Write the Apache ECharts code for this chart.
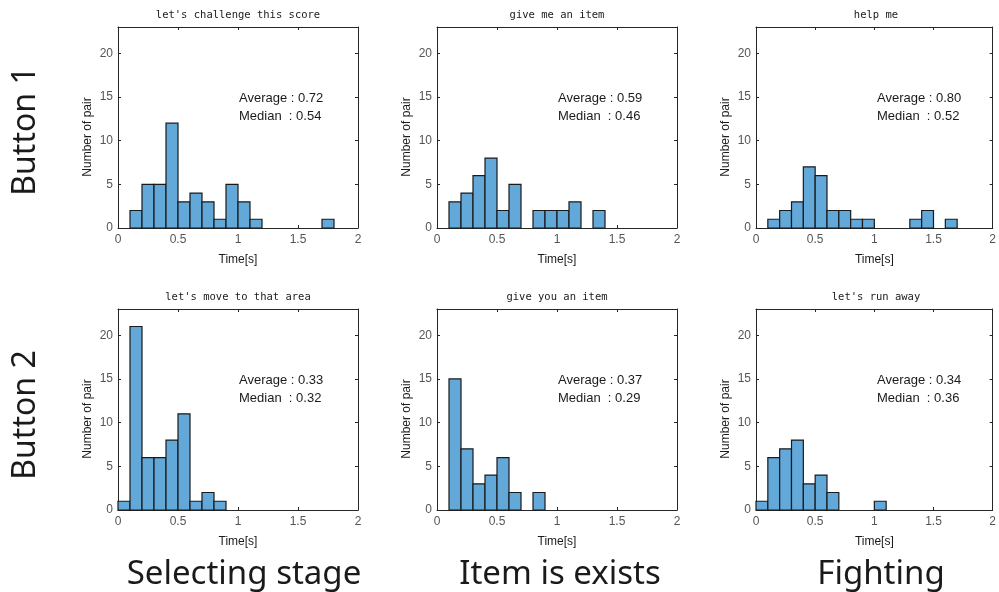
<!DOCTYPE html>
<html>
<head>
<meta charset="utf-8">
<script src="https://cdn.jsdelivr.net/npm/echarts@6/dist/echarts.min.js"></script>
<style>
html,body{margin:0;padding:0;background:#fff;}
#chart{width:999px;height:592px;}
</style>
</head>
<body>
<div id="chart"></div>
<script>
// ---- Data ----
const BIN_WIDTH = 0.1; // histogram bin width in seconds, bins start at 0
const panelTitles = [
  "let's challenge this score", "give me an item", "help me",
  "let's move to that area", "give you an item", "let's run away"
];
// counts per bin: [0-0.1, 0.1-0.2, ..., 1.9-2.0]
const countsChallenge = [0, 2, 5, 5, 12, 3, 4, 3, 1, 5, 3, 1, 0, 0, 0, 0, 0, 1, 0, 0];
const countsGiveMe    = [0, 3, 4, 6, 8, 2, 5, 0, 2, 2, 2, 3, 0, 2, 0, 0, 0, 0, 0, 0];
const countsHelpMe    = [0, 1, 2, 3, 7, 6, 2, 2, 1, 1, 0, 0, 0, 1, 2, 0, 1, 0, 0, 0];
const countsMove      = [1, 21, 6, 6, 8, 11, 1, 2, 1, 0, 0, 0, 0, 0, 0, 0, 0, 0, 0, 0];
const countsGiveYou   = [0, 15, 7, 3, 4, 6, 2, 0, 2, 0, 0, 0, 0, 0, 0, 0, 0, 0, 0, 0];
const countsRunAway   = [1, 6, 7, 8, 3, 4, 2, 0, 0, 0, 1, 0, 0, 0, 0, 0, 0, 0, 0, 0];
const allCounts = [countsChallenge, countsGiveMe, countsHelpMe, countsMove, countsGiveYou, countsRunAway];
const averages = ["0.72", "0.59", "0.80", "0.33", "0.37", "0.34"];
const medians  = ["0.54", "0.46", "0.52", "0.32", "0.29", "0.36"];
const rowLabels = ["Button 1", "Button 2"];
const colLabels = ["Selecting stage", "Item is exists", "Fighting"];
const xTickLabels = ["0", "0.5", "1", "1.5", "2"];
const X_MIN = 0, X_MAX = 2, X_INTERVAL = 0.5;
const Y_MIN = 0, Y_MAX = 23, Y_INTERVAL = 5;
const xAxisName = "Time[s]";
const yAxisName = "Number of pair";

// ---- Layout ----
const gridLefts = [118, 437, 756];
const gridTops = [27, 309];
const GW = 240, GH = 201;
const frameColor = '#262626';
const labelColor = '#555555';
const barColor = '#62a8d9';

const grids = [], xAxes = [], yAxes = [], series = [], graphics = [];

for (let i = 0; i < 6; i++) {
  const r = Math.floor(i / 3), c = i % 3;
  const left = gridLefts[c], top = gridTops[r];
  grids.push({left: left, top: top, width: GW, height: GH, containLabel: false});
  const tickCommon = {show: true, inside: true, length: 3, lineStyle: {color: frameColor, width: 1}};
  const lineCommon = {show: true, onZero: false, lineStyle: {color: frameColor, width: 1}};
  // bottom x
  xAxes.push({
    type: 'value', gridIndex: i, min: X_MIN, max: X_MAX, interval: X_INTERVAL, position: 'bottom',
    axisLine: lineCommon, axisTick: tickCommon, splitLine: {show: false},
    axisLabel: {color: labelColor, fontSize: 12, fontFamily: 'Liberation Sans', margin: 6,
      formatter: v => xTickLabels[Math.round((v - X_MIN) / X_INTERVAL)]},
    name: xAxisName, nameLocation: 'middle', nameGap: 26,
    nameTextStyle: {color: '#1a1a1a', fontSize: 12, fontFamily: 'Liberation Sans'}
  });
  // top x (frame)
  xAxes.push({
    type: 'value', gridIndex: i, min: X_MIN, max: X_MAX, interval: X_INTERVAL, position: 'top',
    axisLine: lineCommon, axisTick: tickCommon, splitLine: {show: false}, axisLabel: {show: false}
  });
  // left y
  yAxes.push({
    type: 'value', gridIndex: i, min: Y_MIN, max: Y_MAX, interval: Y_INTERVAL, position: 'left',
    axisLine: lineCommon, axisTick: tickCommon, splitLine: {show: false},
    axisLabel: {color: labelColor, fontSize: 12, fontFamily: 'Liberation Sans', margin: 5, showMaxLabel: false}
  });
  // right y (frame)
  yAxes.push({
    type: 'value', gridIndex: i, min: Y_MIN, max: Y_MAX, interval: Y_INTERVAL, position: 'right',
    axisLine: lineCommon, axisTick: tickCommon, splitLine: {show: false}, axisLabel: {show: false}
  });

  const data = allCounts[i].map((cnt, k) => [k * BIN_WIDTH, (k + 1) * BIN_WIDTH, cnt]).filter(d => d[2] > 0);
  series.push({
    type: 'custom', xAxisIndex: 2 * i, yAxisIndex: 2 * i,
    data: data,
    encode: {x: [0, 1], y: 2},
    renderItem: function (params, api) {
      const p0 = api.coord([api.value(0), 0]);
      const p1 = api.coord([api.value(1), api.value(2)]);
      return {
        type: 'rect',
        shape: {x: p0[0], y: p1[1], width: p1[0] - p0[0], height: p0[1] - p1[1]},
        style: {fill: barColor, stroke: '#1a1a1a', lineWidth: 1.2}
      };
    }
  });

  // title
  graphics.push({type: 'text', x: left + GW / 2, y: top - 12,
    style: {text: panelTitles[i], fill: '#1a1a1a', font: '10.5px "DejaVu Sans Mono"', textAlign: 'center', textVerticalAlign: 'middle'}});
  // stats
  graphics.push({type: 'text', x: left + 121, y: top + 71,
    style: {text: 'Average : ' + averages[i], fill: '#1a1a1a', font: '13px "Liberation Sans"', textVerticalAlign: 'middle'}});
  graphics.push({type: 'text', x: left + 121, y: top + 89,
    style: {text: 'Median  : ' + medians[i], fill: '#1a1a1a', font: '13px "Liberation Sans"', textVerticalAlign: 'middle', whiteSpace: 'pre'}});
  // y axis name
  graphics.push({type: 'text', x: left - 30, y: top + 110, rotation: Math.PI / 2,
    style: {text: yAxisName, fill: '#1a1a1a', font: '12px "Liberation Sans"', textAlign: 'center', textVerticalAlign: 'middle'}});
}

// row labels
const rowCenters = [131, 415];
rowLabels.forEach((t, r) => {
  graphics.push({type: 'text', x: 26, y: rowCenters[r], rotation: Math.PI / 2,
    style: {text: t, fill: '#1a1a1a', font: '32px "Noto Sans"', textAlign: 'center', textVerticalAlign: 'middle'}});
});
// column labels
const colCenters = [244, 560, 881];
colLabels.forEach((t, c) => {
  graphics.push({type: 'text', x: colCenters[c], y: 575,
    style: {text: t, fill: '#1a1a1a', font: '33px "Noto Sans"', textAlign: 'center', textVerticalAlign: 'middle'}});
});

const chart = echarts.init(document.getElementById('chart'), null, {renderer: 'canvas'});
chart.setOption({
  animation: false,
  backgroundColor: '#fff',
  grid: grids,
  xAxis: xAxes,
  yAxis: yAxes,
  series: series,
  graphic: graphics
});
</script>
</body>
</html>
